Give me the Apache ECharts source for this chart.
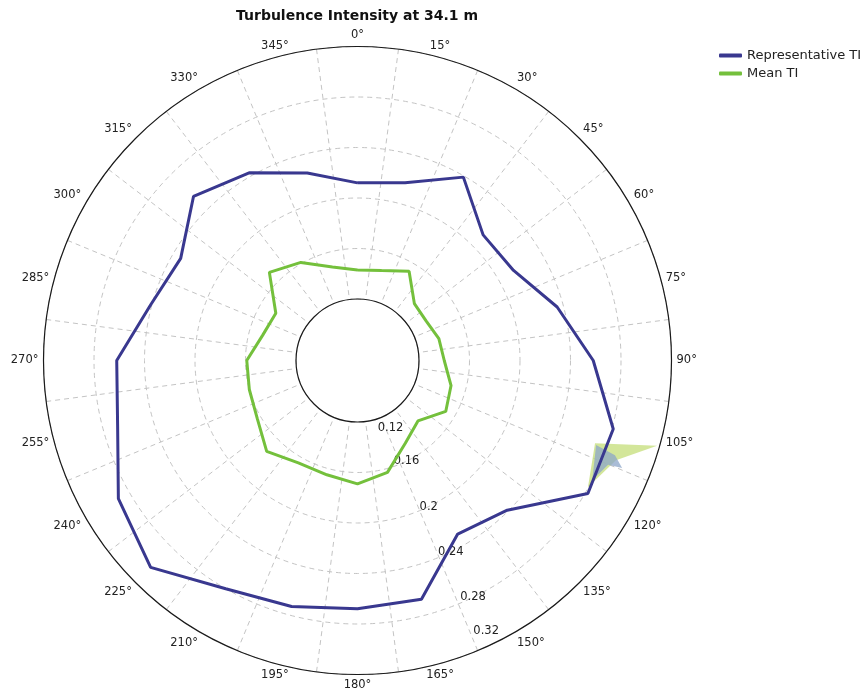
<!DOCTYPE html>
<html>
<head>
<meta charset="utf-8">
<script src="https://cdn.jsdelivr.net/npm/echarts@6/dist/echarts.min.js"></script>
<style>
  html, body { margin: 0; padding: 0; background: #ffffff; }
  #chart { width: 867px; height: 696px; }
</style>
</head>
<body>
<div id="chart"></div>
<script>
// Wind direction sectors (degrees from north, clockwise)
const directions = [0, 15, 30, 45, 60, 75, 90, 105, 120, 135, 150, 165,
                    180, 195, 210, 225, 240, 255, 270, 285, 300, 315, 330, 345];
const directionLabels = ['0°', '15°', '30°', '45°', '60°', '75°', '90°', '105°', '120°', '135°', '150°', '165°',
                         '180°', '195°', '210°', '225°', '240°', '255°', '270°', '285°', '300°', '315°', '330°', '345°'];

// Turbulence intensity per sector
const representativeTI = [0.212, 0.217, 0.239, 0.212, 0.214, 0.235, 0.258, 0.281, 0.282, 0.239, 0.230, 0.267,
                          0.268, 0.273, 0.280, 0.303, 0.290, 0.268, 0.262, 0.241, 0.233, 0.255, 0.243, 0.225];
const meanTI = [0.143, 0.145, 0.153, 0.135, 0.134, 0.138, 0.140, 0.148, 0.152, 0.139, 0.147, 0.163,
                0.169, 0.165, 0.165, 0.173, 0.163, 0.160, 0.159, 0.149, 0.146, 0.170, 0.161, 0.148];

// Radial scale ticks
const tiTicks = [0.12, 0.16, 0.2, 0.24, 0.28, 0.32];

// Small rendering glitch near the 105°-120° sectors: [TI, direction] vertices
const glitchGreen = [[0.2705, 109.2], [0.318, 105.9], [0.2907, 111.1], [0.2796, 118.8]];
const glitchBlue = [[0.2718, 109.5], [0.2886, 110.2], [0.2975, 112.1], [0.2863, 112.6], [0.280, 117.0]];

const tiMin = tiTicks[0];
const tiMax = tiTicks[tiTicks.length - 1];
const tiStep = 0.04;

// Closed polygon of [radius, angle] pairs
function ring(values) {
  const pts = directions.map((d, i) => [values[i], d]);
  pts.push([values[0], 360]);
  return pts;
}

const center = [357.5, 360.5];
const radius = [61.5, 314];
const labelFont = 'DejaVu Sans';
const gridLine = { color: '#c4c4c4', width: 1, type: [5, 4] };

const chart = echarts.init(document.getElementById('chart'), null, { renderer: 'canvas' });

chart.setOption({
  animation: false,
  backgroundColor: '#ffffff',
  title: {
    text: 'Turbulence Intensity at 34.1 m',
    left: 231,
    top: 4,
    textStyle: { fontFamily: labelFont, fontWeight: 'bold', fontSize: 14, color: '#111' }
  },
  legend: {
    orient: 'vertical',
    left: 714,
    top: 44,
    itemWidth: 23,
    itemHeight: 4,
    itemGap: 5,
    icon: 'roundRect',
    textStyle: { fontFamily: labelFont, fontSize: 13, color: '#222' },
    data: ['Representative TI', 'Mean TI']
  },
  polar: [
    { center: center, radius: radius },
    { center: center, radius: radius },
    { center: center, radius: radius }
  ],
  angleAxis: [
    {
      polarIndex: 0,
      type: 'category',
      data: directionLabels,
      boundaryGap: true,
      startAngle: 97.5,
      clockwise: true,
      axisLine: { show: true, lineStyle: { color: '#1a1a1a', width: 1.2 } },
      axisTick: { show: false },
      axisLabel: { margin: 5, fontFamily: labelFont, fontSize: 11.5, color: '#222' },
      splitLine: { show: true, lineStyle: gridLine }
    },
    {
      polarIndex: 1,
      type: 'value',
      min: 0, max: 360,
      startAngle: 90,
      clockwise: true,
      show: false
    },
    {
      polarIndex: 2,
      type: 'value',
      min: 0, max: 360,
      startAngle: -64,
      clockwise: true,
      show: false
    }
  ],
  radiusAxis: [
    {
      polarIndex: 0,
      type: 'value',
      min: tiMin, max: tiMax, interval: tiStep,
      axisLine: { show: false },
      axisTick: { show: false },
      axisLabel: { show: false },
      splitLine: { show: true, lineStyle: gridLine }
    },
    {
      polarIndex: 1,
      type: 'value',
      min: tiMin, max: tiMax, interval: tiStep,
      show: false
    },
    {
      polarIndex: 2,
      type: 'value',
      min: tiMin, max: tiMax, interval: tiStep,
      axisLine: { show: false },
      axisTick: { show: false },
      splitLine: { show: false },
      axisLabel: {
        show: true,
        margin: 0,
        align: 'center',
        verticalAlign: 'middle',
        fontFamily: labelFont,
        fontSize: 11.5,
        color: '#222',
        formatter: function (v) {
          const t = String(+v.toFixed(2));
          if (Math.abs(v - tiMin) < 1e-9) return '{lo|' + t + '}';
          if (Math.abs(v - tiMax) < 1e-9) return '{hi|' + t + '}';
          return t;
        },
        rich: {
          lo: { padding: [24, 0, 0, 12], fontFamily: labelFont, fontSize: 11.5, color: '#222' },
          hi: { padding: [0, 18, 24, 0], fontFamily: labelFont, fontSize: 11.5, color: '#222' }
        }
      }
    }
  ],
  series: [
    {
      type: 'custom',
      coordinateSystem: 'polar',
      polarIndex: 1,
      silent: true,
      data: [[tiMin, 0]],
      z: 1,
      renderItem: function (params, api) {
        return {
          type: 'group',
          children: [
            { type: 'polygon', shape: { points: glitchGreen.map(p => api.coord(p)) },
              style: { fill: 'rgba(196,222,120,0.75)' } },
            { type: 'polygon', shape: { points: glitchBlue.map(p => api.coord(p)) },
              style: { fill: 'rgba(140,165,200,0.75)' } }
          ]
        };
      }
    },
    {
      name: 'Representative TI',
      type: 'line',
      coordinateSystem: 'polar',
      polarIndex: 1,
      data: ring(representativeTI),
      symbol: 'none',
      color: '#39388f',
      lineStyle: { width: 3, color: '#39388f' },
      z: 3
    },
    {
      name: 'Mean TI',
      type: 'line',
      coordinateSystem: 'polar',
      polarIndex: 1,
      data: ring(meanTI),
      symbol: 'none',
      color: '#74c03c',
      lineStyle: { width: 3, color: '#74c03c' },
      z: 3
    }
  ]
});
</script>
</body>
</html>
